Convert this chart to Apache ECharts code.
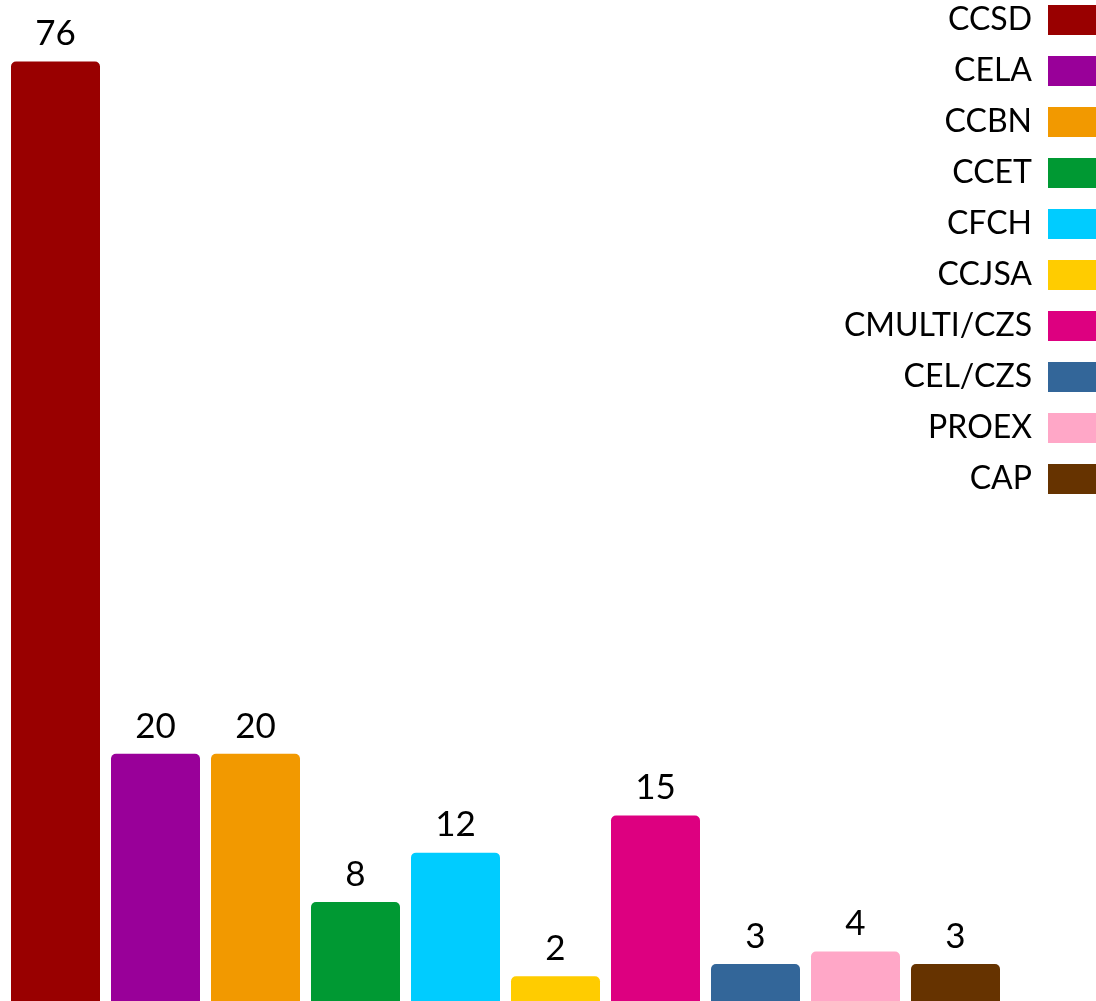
<!DOCTYPE html>
<html>
<head>
<meta charset="utf-8">
<script src="https://cdn.jsdelivr.net/npm/echarts@6/dist/echarts.min.js"></script>
<style>
html,body{margin:0;padding:0;background:#fff;}
#chart{width:1096px;height:1001px;}
</style>
</head>
<body>
<div id="chart"></div>
<script>
const categories = ['CCSD','CELA','CCBN','CCET','CFCH','CCJSA','CMULTI/CZS','CEL/CZS','PROEX','CAP'];
const values = [76, 20, 20, 8, 12, 2, 15, 3, 4, 3];
const colors = ['#990000','#990099','#F29900','#009933','#00CCFF','#FFCC00','#DD0080','#336699','#FFA7C7','#663300'];

const FONT = 'Lato, "Open Sans", sans-serif';
const series = categories.map((name, i) => ({
  name: name,
  type: 'bar',
  stack: 'all',
  barCategoryGap: '11%',
  itemStyle: { color: colors[i], borderRadius: [5,5,0,0] },
  label: {
    show: true, position: 'top', distance: 10,
    color: '#000', fontSize: 35, fontFamily: FONT
  },
  data: categories.map((c, j) => j === i ? values[i] : '-')
}));

const chart = echarts.init(document.getElementById('chart'));
chart.setOption({
  animation: false,
  backgroundColor: '#fff',
  grid: { left: 5.5, right: 90.5, top: 12, bottom: 0, containLabel: false },
  xAxis: { type: 'category', data: categories, show: false },
  yAxis: { type: 'value', min: 0, max: 80, show: false },
  legend: {
    orient: 'vertical', right: 0, top: 4, align: 'right', padding: 0,
    itemWidth: 48, itemHeight: 30, itemGap: 19,
    icon: 'rect',
    textStyle: { fontSize: 32, fontFamily: FONT, color: '#000', padding: [0, 11, 0, 0] },
    data: categories
  },
  series: series
});
</script>
</body>
</html>
